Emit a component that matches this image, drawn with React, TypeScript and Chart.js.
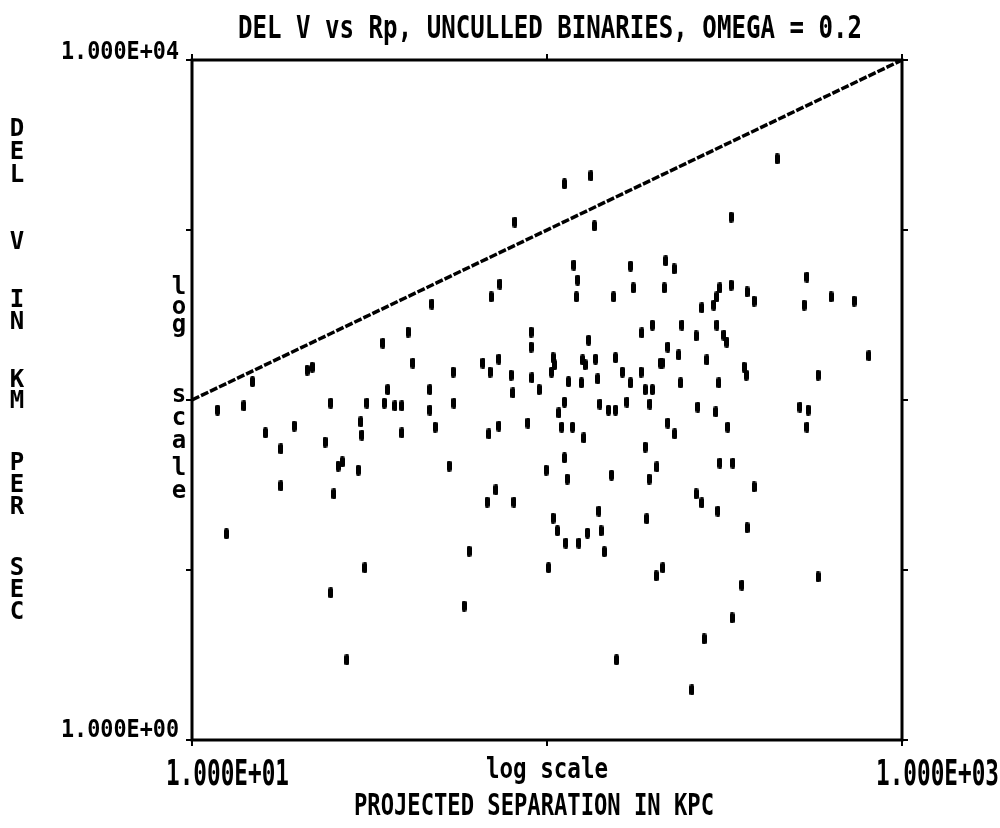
import React, { useEffect, useRef } from "react";
import { Chart, registerables } from "chart.js";

Chart.register(...registerables);

// Projected separation (kpc) of each binary
const sepKpc: number[] = [
  14.8, 21.1, 21.8, 34.5, 40.6, 41.9, 35.6, 11.8, 14.0, 24.6,
  31.1, 34.8, 37.3, 39.0, 16.1, 19.4, 23.7, 29.9, 30.1, 39.0,
  17.8, 25.8, 26.5, 29.4, 17.8, 25.1, 12.5, 30.7, 24.6, 27.3,
  81.2, 112, 133, 136, 47.4, 69.6, 73.7, 119, 122, 121,
  154, 172, 175, 90.2, 90.2, 131, 185, 198, 54.4, 66.0,
  69.1, 73.2, 79.2, 104, 105, 103, 126, 128, 137, 156,
  163, 184, 209, 46.8, 80.2, 90.7, 95.0, 115, 125, 139,
  172, 189, 198, 46.8, 54.7, 112, 141, 149, 156, 168,
  195, 48.4, 68.6, 73.2, 88.4, 108, 110, 118, 127, 189,
  53.0, 99.4, 112, 114, 152, 194, 204, 71.8, 67.8, 80.7,
  104, 107, 113, 123, 130, 140, 142, 145, 191, 60.3,
  101, 203, 212, 58.4, 157, 445, 330, 216, 228, 214,
  330, 307, 301, 295, 366, 383, 273, 540, 530, 631,
  733, 240, 301, 263, 315, 321, 219, 235, 211, 282,
  359, 364, 807, 580, 238, 305, 266, 299, 323, 516,
  544, 540, 219, 229, 307, 334, 383, 263, 273, 303,
  366, 354, 580, 332, 277, 256,
];

// Velocity difference (km/s) of each binary
const delV: number[] = [
  128, 150, 156, 216, 251, 165, 115, 87.3, 92.3, 95.9,
  95.9, 95.9, 92.3, 92.3, 64.0, 70.3, 56.6, 74.3, 62.2, 64.0,
  51.5, 40.9, 43.2, 38.7, 31.2, 28.0, 16.3, 10.3, 7.33, 2.96,
  1114, 1866, 2080, 1056, 367, 404, 481, 622, 508, 404,
  404, 614, 456, 251, 205, 225, 248, 276, 146, 165,
  146, 174, 140, 177, 161, 146, 172, 161, 174, 177,
  146, 146, 165, 115, 110, 135, 115, 128, 126, 133,
  126, 115, 115, 87.3, 95.9, 97.3, 94.7, 87.3, 87.3, 97.3,
  94.7, 69.3, 63.1, 70.3, 73.2, 83.9, 69.3, 69.3, 59.8, 52.9,
  40.9, 38.7, 45.6, 34.3, 36.2, 34.3, 40.4, 29.6, 25.1, 25.1,
  20.2, 17.0, 14.4, 14.4, 16.5, 22.2, 17.0, 12.8, 20.0, 12.9,
  10.3, 9.23, 10.3, 6.14, 2.96, 2618, 1191, 658, 590, 456,
  474, 456, 404, 362, 432, 382, 348, 529, 362, 404,
  382, 276, 276, 238, 241, 219, 205, 184, 165, 172,
  156, 140, 182, 140, 126, 126, 90.9, 85.0, 69.3, 90.9,
  87.3, 69.3, 73.2, 63.1, 42.6, 42.6, 30.8, 28.0, 24.8, 22.2,
  17.7, 8.16, 9.10, 5.22, 3.93, 1.97,
];

// Reference line endpoints
const limitX: number[] = [10, 1000];
const limitY: number[] = [100, 10000];

// Axis ranges and ticks
const xRange: number[] = [10, 1000];
const yRange: number[] = [1, 10000];
const xTickValues: number[] = [10, 100, 1000];
const yTickValues: number[] = [1, 10, 100, 1000, 10000];
const xLabelValues: number[] = [10, 1000];
const xLabelTexts: string[] = ["1.000E+01", "1.000E+03"];
const yLabelValues: number[] = [10000, 1];
const yLabelTexts: string[] = ["1.000E+04", "1.000E+00"];

const titleText = "DEL V vs Rp, UNCULLED BINARIES, OMEGA = 0.2";
const xSubTitle = "log scale";
const xTitle = "PROJECTED SEPARATION IN KPC";
const yTitleLetters: string[] = ["D", "E", "L", "V", "I", "N", "K", "M", "P", "E", "R", "S", "E", "C"];
const yTitleCenters: number[] = [127, 150, 173, 240, 298, 320, 378, 399, 461, 483, 505, 566, 588, 610];
const ySubLetters: string[] = ["l", "o", "g", "s", "c", "a", "l", "e"];
const ySubCenters: number[] = [285, 308, 330, 396, 419, 442, 466, 492];

const FONT = '"DejaVu Sans Mono", monospace';

function fitText(
  ctx: CanvasRenderingContext2D,
  text: string,
  x: number,
  baseline: number,
  width: number,
  size: number,
  align: "left" | "center" | "right",
  weight = "bold"
) {
  ctx.font = `${weight} ${size}px ${FONT}`;
  const w = ctx.measureText(text).width;
  const s = width / w;
  const left = align === "left" ? x : align === "right" ? x - width : x - width / 2;
  ctx.save();
  ctx.translate(left, baseline);
  ctx.scale(s, 1);
  ctx.textAlign = "left";
  ctx.textBaseline = "alphabetic";
  ctx.fillStyle = "#000";
  ctx.fillText(text, 0, 0);
  ctx.restore();
}

function makeDash(): HTMLCanvasElement {
  const c = document.createElement("canvas");
  c.width = 5;
  c.height = 11;
  const g = c.getContext("2d")!;
  g.fillStyle = "#000";
  g.beginPath();
  (g as any).roundRect ? (g as any).roundRect(0, 0, 5, 11, 2) : g.rect(0, 0, 5, 11);
  g.fill();
  return c;
}

const framePlugin = {
  id: "frame",
  beforeDatasetsDraw(chart: any) {
    const { ctx, chartArea } = chart;
    const xs = chart.scales.x;
    const ys = chart.scales.y;
    ctx.save();
    ctx.strokeStyle = "#000";
    ctx.lineWidth = 3;
    ctx.strokeRect(chartArea.left, chartArea.top, chartArea.right - chartArea.left, chartArea.bottom - chartArea.top);
    ctx.lineWidth = 2;
    const t = 6;
    ctx.beginPath();
    for (const v of yTickValues) {
      const py = ys.getPixelForValue(v);
      ctx.moveTo(chartArea.left - t, py);
      ctx.lineTo(chartArea.left, py);
      ctx.moveTo(chartArea.right, py);
      ctx.lineTo(chartArea.right + t, py);
    }
    for (const v of xTickValues) {
      const px = xs.getPixelForValue(v);
      ctx.moveTo(px, chartArea.top - t);
      ctx.lineTo(px, chartArea.top);
      ctx.moveTo(px, chartArea.bottom);
      ctx.lineTo(px, chartArea.bottom + t);
    }
    ctx.stroke();
    ctx.restore();
  },
  afterDraw(chart: any) {
    const { ctx } = chart;
    const xs = chart.scales.x;
    const ys = chart.scales.y;
    // title
    fitText(ctx, titleText, 550, 38, 624, 32, "center");
    // x tick labels
    xLabelValues.forEach((v, i) => {
      const py = 785;
      const px = xs.getPixelForValue(v);
      fitText(ctx, xLabelTexts[i], px - 26, py, 123, 35, "left");
    });
    // y tick labels
    yLabelValues.forEach((v, i) => {
      const py = ys.getPixelForValue(v);
      const off = i === 0 ? -10 : -12;
      fitText(ctx, yLabelTexts[i], 179, py + off + 9, 118, 25, "right");
    });
    // x axis titles
    fitText(ctx, xSubTitle, 486, 778, 122, 28, "left");
    fitText(ctx, xTitle, 354, 815, 360, 30, "left");
    // stacked y title
    ctx.save();
    ctx.fillStyle = "#000";
    ctx.textAlign = "center";
    ctx.textBaseline = "alphabetic";
    ctx.font = `bold 24px ${FONT}`;
    yTitleLetters.forEach((ch, i) => {
      ctx.fillText(ch, 17, yTitleCenters[i] + 9);
    });
    ySubLetters.forEach((ch, i) => {
      const off = ch === "l" ? 9 : ch === "g" ? 2 : 6;
      ctx.fillText(ch, 179, ySubCenters[i] + off);
    });
    ctx.restore();
  },
};

export default function App() {
  const ref = useRef<HTMLCanvasElement | null>(null);
  useEffect(() => {
    document.body.style.margin = "0";
    const canvas = ref.current!;
    const dash = makeDash();
    const points = sepKpc.map((x, i) => ({ x, y: delV[i] }));
    const line = limitX.map((x, i) => ({ x, y: limitY[i] }));
    const chart = new Chart(canvas, {
      type: "scatter",
      data: {
        datasets: [
          {
            type: "line",
            data: line,
            borderColor: "#000",
            borderWidth: 3.5,
            borderDash: [8, 2],
            pointRadius: 0,
            fill: false,
          } as any,
          {
            data: points,
            pointStyle: dash as any,
            pointRadius: 3,
            backgroundColor: "#000",
            borderColor: "#000",
          },
        ],
      },
      options: {
        animation: false,
        responsive: false,
        devicePixelRatio: 1,
        layout: { padding: { left: 192, right: 98, top: 60, bottom: 88 } },
        plugins: { legend: { display: false }, tooltip: { enabled: false }, title: { display: false } },
        scales: {
          x: { type: "logarithmic", min: xRange[0], max: xRange[1], display: false },
          y: { type: "logarithmic", min: yRange[0], max: yRange[1], display: false },
        },
      },
      plugins: [framePlugin],
    });
    return () => chart.destroy();
  }, []);
  return (
    <div style={{ width: 1000, height: 828, background: "#fff" }}>
      <canvas ref={ref} width={1000} height={828} style={{ display: "block" }} />
    </div>
  );
}
